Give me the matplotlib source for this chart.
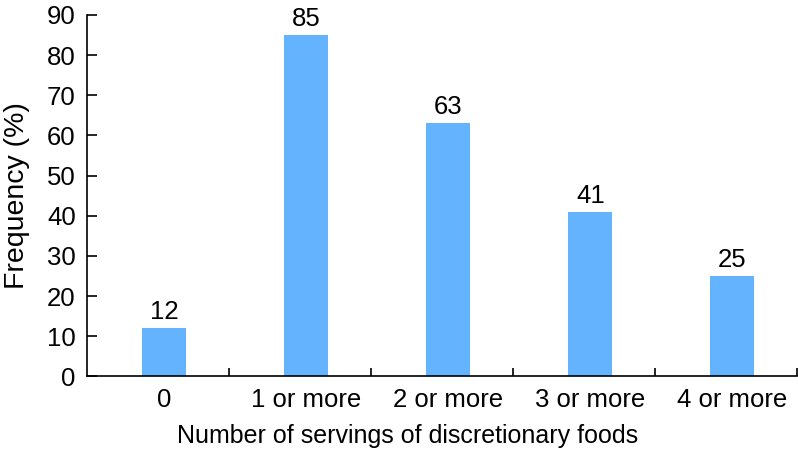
import matplotlib
matplotlib.use("Agg")
import matplotlib.pyplot as plt
import numpy as np

# chart data
categories = ["0", "1 or more", "2 or more", "3 or more", "4 or more"]
frequency = [12, 85, 63, 41, 25]

plt.rcParams["font.family"] = ["Liberation Sans", "DejaVu Sans"]

fig = plt.figure(figsize=(7.98, 4.53), dpi=100)
ax = fig.add_axes([0.109, 0.169, 0.8897, 0.798])

# bars sit a touch right of the category centre, like the original
xs = np.arange(len(categories)) + 0.045
bars = ax.bar(xs, frequency, width=0.31, color="#63B3FF")

for x, v in zip(xs, frequency):
    ax.annotate(f"{v}", xy=(x, v), xytext=(0, 3), textcoords="offset points",
                ha="center", va="bottom", fontsize=18.5)

ax.set_xlim(-0.5, len(categories) - 0.5)
ax.set_ylim(0, 90)
ax.set_yticks(np.arange(0, 91, 10))
ax.set_xticks(xs)
ax.set_xticklabels(categories)
ax.set_xticks(np.arange(len(categories)) + 0.5, minor=True)

ax.tick_params(axis="x", which="major", length=0, pad=8, labelsize=18.5)
ax.tick_params(axis="x", which="minor", direction="in", length=6, width=1.2)
ax.tick_params(axis="y", direction="in", length=7, width=1.2, pad=8, labelsize=18.5)

ax.spines["top"].set_visible(False)
ax.spines["right"].set_visible(False)
ax.spines["left"].set_linewidth(1.2)
ax.spines["bottom"].set_linewidth(1.2)

ax.set_xlabel("Number of servings of discretionary foods", fontsize=18, labelpad=9)
# the original label is centred left of the axis middle
ax.xaxis.label.set_x(0.452)
ax.set_ylabel("Frequency (%)", fontsize=20.5, labelpad=12)

fig.savefig("out.png", dpi=100)
